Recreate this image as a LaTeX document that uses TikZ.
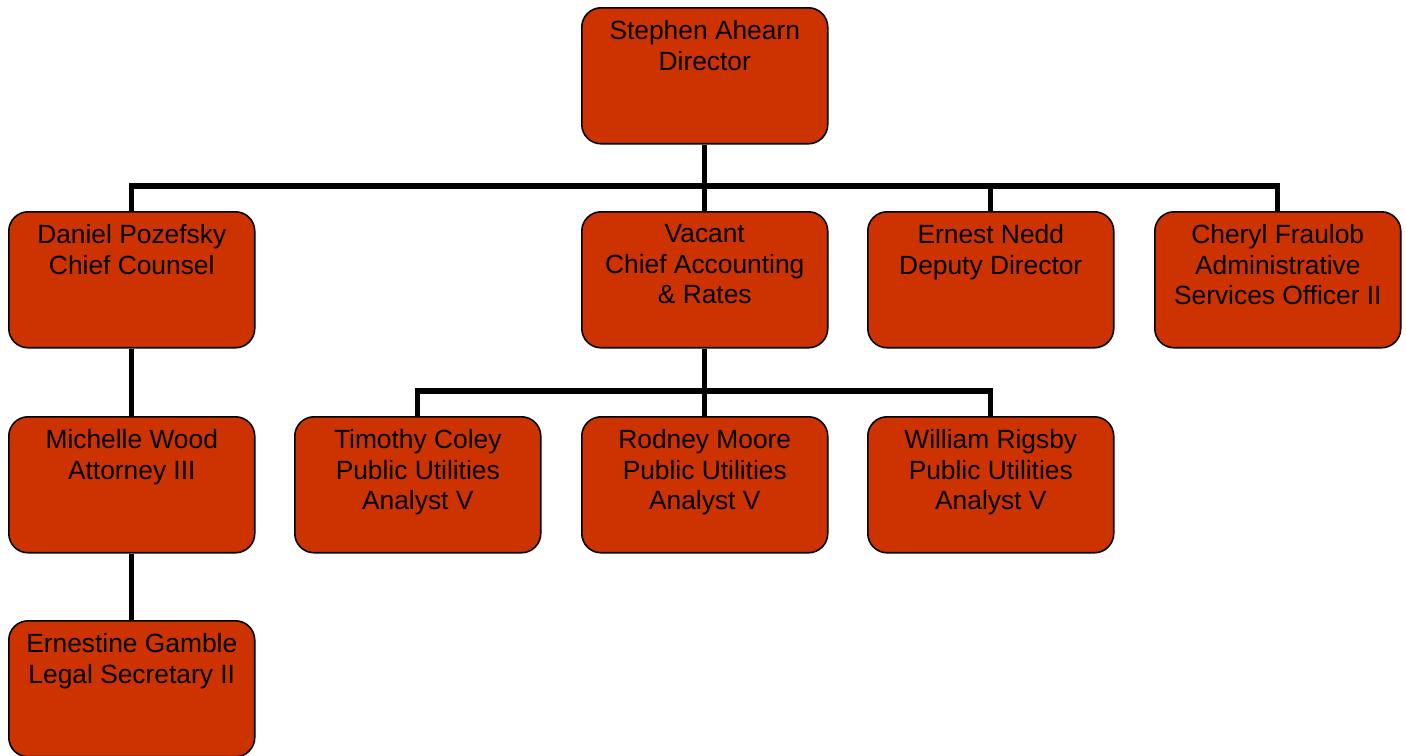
\documentclass[tikz,border=0pt]{standalone}
\usepackage{fontspec}
\setmainfont{Liberation Sans}
\usetikzlibrary{positioning}
\definecolor{BoxRed}{HTML}{CC3300}

\begin{document}
\begin{tikzpicture}[x=0.02cm, y=-0.02cm,
  unit/.style={rectangle, rounded corners=11pt, draw=black, line width=0.9pt,
               fill=BoxRed, minimum width=4.92cm, minimum height=2.72cm,
               anchor=north west, inner sep=0pt},
  txt/.style={align=center, inner sep=0pt, anchor=north, yshift=-7.6pt,
              font=\fontsize{15}{17.3}\selectfont},
  link/.style={line width=2.9pt}
]
\useasboundingbox (0,0) rectangle (1406,755);

\node[unit, label={[txt]north:{Stephen Ahearn\\Director}}]                 (dir)       at (581,7)   {};
\node[unit, label={[txt]north:{Daniel Pozefsky\\Chief Counsel}}]            (daniel)    at (8,211)   {};
\node[unit, label={[txt]north:{Vacant\\Chief Accounting\\\& Rates}}]        (vacant)    at (581,211) {};
\node[unit, label={[txt]north:{Ernest Nedd\\Deputy Director}}]              (ernest)    at (867,211) {};
\node[unit, label={[txt]north:{Cheryl Fraulob\\Administrative\\Services Officer II}}] (cheryl) at (1154,211) {};
\node[unit, label={[txt]north:{Michelle Wood\\Attorney III}}]               (michelle)  at (8,416)   {};
\node[unit, label={[txt]north:{Timothy Coley\\Public Utilities\\Analyst V}}] (timothy)  at (294,416) {};
\node[unit, label={[txt]north:{Rodney Moore\\Public Utilities\\Analyst V}}] (rodney)    at (581,416) {};
\node[unit, label={[txt]north:{William Rigsby\\Public Utilities\\Analyst V}}] (william) at (867,416) {};
\node[unit, label={[txt]north:{Ernestine Gamble\\Legal Secretary II}}]      (ernestine) at (8,620)   {};

\coordinate (bar1) at (704,186);
\coordinate (bar2) at (704,391);

\draw[link] (daniel.north) |- (bar1) -| (cheryl.north);
\draw[link] (dir.south) -- (vacant.north);
\draw[link] (ernest.north |- bar1) -- (ernest.north);
\draw[link] (timothy.north) |- (bar2) -| (william.north);
\draw[link] (vacant.south) -- (rodney.north);
\draw[link] (daniel.south) -- (michelle.north);
\draw[link] (michelle.south) -- (ernestine.north);
\end{tikzpicture}
\end{document}
